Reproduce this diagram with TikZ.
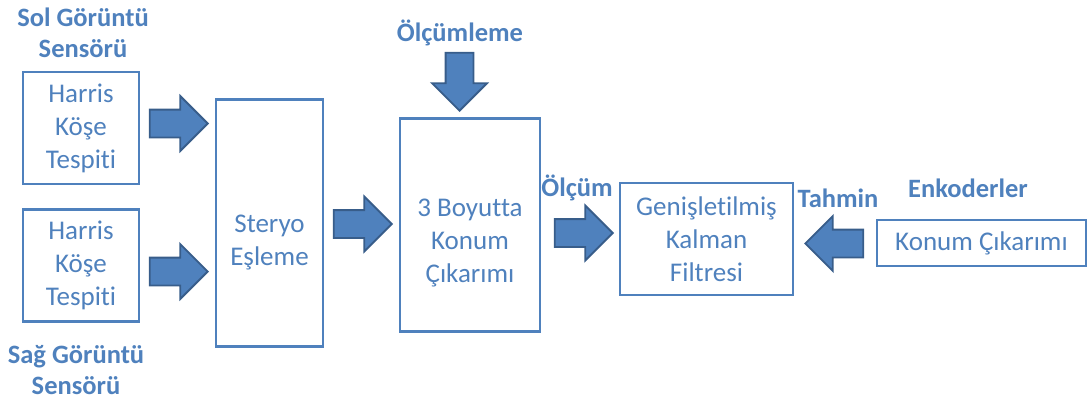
\documentclass[tikz,border=0pt]{standalone}
\usepackage{fontspec}
\setmainfont{Carlito}[Ligatures=NoCommon]
\usepackage{xcolor}
\usepackage{tikz}
\usetikzlibrary{positioning,shapes.arrows}

\definecolor{officeblue}{HTML}{4F81BD}
\definecolor{arrowedge}{HTML}{385D8A}

\begin{document}
\begin{tikzpicture}[
  x=1pt, y=-1pt,
  blk/.style={draw=officeblue, line width=2.6pt, text=officeblue, align=center,
              font=\fontsize{27}{33}\selectfont, inner sep=0pt},
  boxtxt/.style={text=officeblue, align=center, font=\fontsize{27}{33}\selectfont},
  lbl/.style={text=officeblue, align=center, font=\bfseries\fontsize{26.5}{31}\selectfont},
  barrow/.style={single arrow, draw=arrowedge, fill=officeblue, line width=1.8pt,
                 minimum height=58pt, inner sep=0pt, text height=13pt, text depth=13pt,
                 single arrow head extend=13.5pt, single arrow head indent=0pt,
                 anchor=tip, rotate=#1},
  barrow/.default=0
]
  \useasboundingbox (0,0) rectangle (1091,404);

  % bloklar
  \node[blk, minimum width=116pt, minimum height=112pt] (harrisA) at (81,128) {Harris\\Köşe\\Tespiti};
  \node[blk, minimum width=116pt, minimum height=112pt] (harrisB) at (81,265.5) {Harris\\Köşe\\Tespiti};
  \node[blk, minimum width=107pt, minimum height=247pt,
        label={[boxtxt, yshift=-20pt]center:Steryo\\Eşleme}] (steryo) at (269.5,223) {};
  \node[blk, minimum width=140pt, minimum height=213pt,
        label={[boxtxt, yshift=-18pt]center:3 Boyutta\\Konum\\Çıkarımı}] (konum3b) at (470,225) {};
  \node[blk, minimum width=173pt, minimum height=112pt] (ekf) at (706.5,239) {Genişletilmiş\\Kalman\\Filtresi};
  \node[blk, minimum width=209pt, minimum height=46pt] (enkkonum) at (981.5,243) {Konum Çıkarımı};

  % etiketler
  \node[lbl] (sol) at (83,32.5) {Sol Görüntü\\Sensörü};
  \node[lbl] (sag) at (76,370) {Sağ Görüntü\\Sensörü};
  \node[lbl] (olcumleme) at (460,33) {Ölçümleme};
  \node[lbl] (olcum) at (577,188) {Ölçüm};
  \node[lbl] (tahmin) at (838,198) {Tahmin};
  \node[lbl] (enkoder) at (968,188) {Enkoderler};

  % blok oklar (uc noktasina gore)
  \node[barrow] (a1) at (209,123.5) {};
  \node[barrow] (a2) at (209,271.5) {};
  \node[barrow] (a3) at (393,224) {};
  \node[barrow=-90] (a4) at (459.5,112) {};
  \node[barrow] (a5) at (614,233) {};
  \node[barrow=180] (a6) at (804,243.5) {};
\end{tikzpicture}
\end{document}
